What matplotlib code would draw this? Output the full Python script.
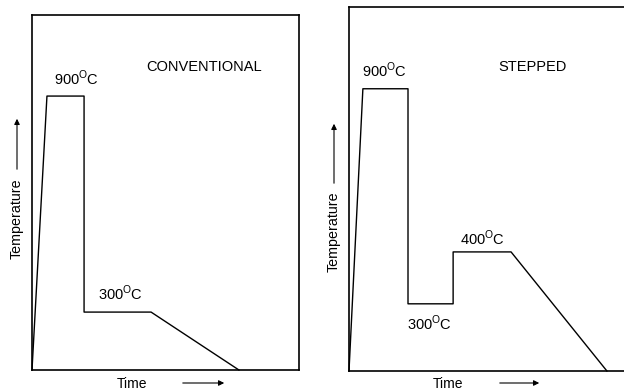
#Imports
import matplotlib
matplotlib.use('Agg')
import matplotlib.pyplot as plt

plt.rcParams['font.family'] = ['Liberation Sans', 'DejaVu Sans']
plt.rcParams['mathtext.fontset'] = 'custom'
plt.rcParams['mathtext.rm'] = 'Liberation Sans'

#Schematic heat treatment cycles (time and temperature in arbitrary units)
Conv_Time = [0, 5.6, 19.5, 19.5, 44.6, 77.5]
Conv_Temp = [0, 77.1, 77.1, 16.3, 16.3, 0]
Step_Time = [0, 5.2, 22.1, 22.1, 39.0, 39.0, 60.7, 96.6]
Step_Temp = [0, 79.4, 79.4, 18.9, 18.9, 33.5, 33.5, 0]

Conv_Labels = ['900$^{\\mathrm{O}}$C', '300$^{\\mathrm{O}}$C']
Step_Labels = ['900$^{\\mathrm{O}}$C', '300$^{\\mathrm{O}}$C', '400$^{\\mathrm{O}}$C']

W, H = 624, 392
fig = plt.figure(figsize=(W/100, H/100), dpi=100)

def px_box(x0, y0, x1, y1):
    return [x0/W, 1 - y1/H, (x1-x0)/W, (y1-y0)/H]

def Setup_Axes(ax, xmax, ymax):
    ax.set_xlim(0, xmax)
    ax.set_ylim(0, ymax)
    ax.set_xticks([])
    ax.set_yticks([])
    for s in ax.spines.values():
        s.set_linewidth(1.2)

def Axis_Labels(tx, ty, ax_x, ax_y0, ax_y1, tm_x, tm_y, ar_x0, ar_x1, ar_y):
    fig.text(tx/W, 1 - ty/H, 'Temperature', rotation=90, ha='center', va='center', fontsize=10.3)
    fig.text(tm_x/W, 1 - tm_y/H, 'Time', ha='center', va='center', fontsize=10)
    fig.patches.append(matplotlib.patches.FancyArrowPatch(
        (ax_x/W, 1 - ax_y0/H), (ax_x/W, 1 - ax_y1/H), transform=fig.transFigure,
        arrowstyle='-|>', mutation_scale=8, lw=0.8, color='black'))
    fig.patches.append(matplotlib.patches.FancyArrowPatch(
        (ar_x0/W, 1 - ar_y/H), (ar_x1/W, 1 - ar_y/H), transform=fig.transFigure,
        arrowstyle='-|>', mutation_scale=8, lw=0.8, color='black'))

#Conventional
ax1 = fig.add_axes(px_box(32, 14.7, 299, 370))
Setup_Axes(ax1, 100, 100)
ax1.plot(Conv_Time, Conv_Temp, color='black', lw=1.0, clip_on=False)
ax1.text(16.5, 82.2, Conv_Labels[0], ha='center', va='center', fontsize=10.5)
ax1.text(33.3, 21.7, Conv_Labels[1], ha='center', va='center', fontsize=10.5)
ax1.text(64.6, 85.3, 'CONVENTIONAL', ha='center', va='center', fontsize=10.5)
Axis_Labels(17, 219, 17, 172, 116, 132, 384, 180, 227, 383)

#Stepped
ax2 = fig.add_axes(px_box(349, 7, 624, 371))
Setup_Axes(ax2, 103, 102.4)
ax2.spines['right'].set_visible(False)
ax2.plot(Step_Time, Step_Temp, color='black', lw=1.0, clip_on=False)
ax2.text(13.3, 84.7, Step_Labels[0], ha='center', va='center', fontsize=10.5)
ax2.text(30.1, 13.5, Step_Labels[1], ha='center', va='center', fontsize=10.5)
ax2.text(50.0, 37.4, Step_Labels[2], ha='center', va='center', fontsize=10.5)
ax2.text(68.9, 85.6, 'STEPPED', ha='center', va='center', fontsize=10.5)
Axis_Labels(334, 232, 334, 186, 121, 448, 384, 497, 542, 383)

fig.savefig('out.png', dpi=100)
